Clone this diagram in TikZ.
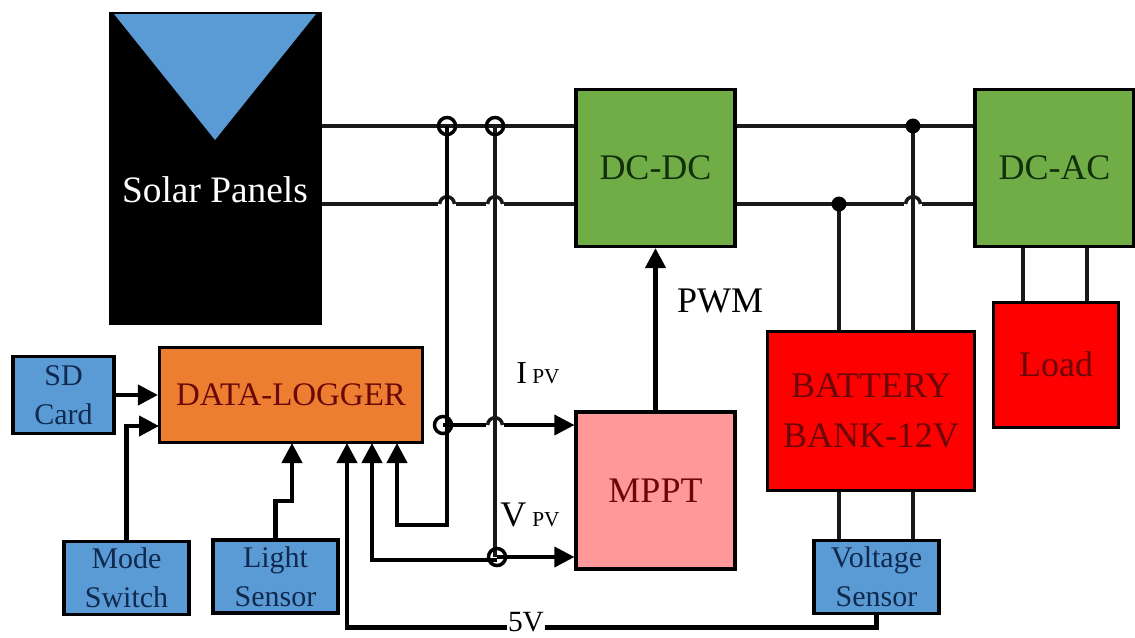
\documentclass[tikz,border=0pt]{standalone}
\usepackage{fontspec}
\setmainfont{Liberation Serif}
\usepackage{xcolor}
\usetikzlibrary{arrows.meta,calc}
\definecolor{panelblue}{HTML}{5B9BD5}
\definecolor{boxgreen}{HTML}{70AD47}
\definecolor{boxorange}{HTML}{ED7D31}
\definecolor{boxpink}{HTML}{FF9999}
\definecolor{boxred}{HTML}{FF0000}
\definecolor{inkblue}{HTML}{10294F}
\definecolor{inkgreen}{HTML}{12300C}
\definecolor{inkred}{HTML}{6A0808}
\tikzset{
  bigfont/.style={font=\fontsize{27}{37}\selectfont},
  smallfont/.style={font=\fontsize{22.5}{29}\selectfont},
  block/.style={draw=black,line width=2.6pt,align=center,inner sep=0pt,bigfont},
  greenbox/.style={block,fill=boxgreen,text=inkgreen,minimum width=119pt,minimum height=117.5pt},
  sensorbox/.style={block,fill=panelblue,text=inkblue,smallfont,minimum width=94pt,minimum height=55pt},
  wire/.style={line width=2.6pt,black!90},
  feed/.style={line width=3.2pt,black,-{Triangle[length=15pt,width=15pt]}},
  thinfeed/.style={line width=2.6pt,black,-{Triangle[length=15pt,width=15pt]}},
  opendot/.style={line width=2.6pt,black},
}
\begin{document}
\begin{tikzpicture}[x=0.75pt,y=-0.75pt]
\useasboundingbox (0,0) rectangle (1135,637);
% panel with its triangle
\node[fill=black,minimum width=160pt,minimum height=235pt,inner sep=0pt] (solar) at (215.5,168.5) {};
\fill[panelblue] (114,14) -- (316,14) -- (215,140) -- cycle;
\node[text=white,font=\fontsize{28}{32}\selectfont] (solartext) at (215,190) {Solar Panels};
% blocks
\node[greenbox] (dcdc) at (655.5,168) {DC-DC};
\node[greenbox] (dcac) at (1054.5,168) {DC-AC};
\node[block,fill=boxred,text=inkred,minimum width=93.5pt,minimum height=93.5pt] (load) at (1056,365) {\raisebox{2pt}{Load}};
\node[block,fill=boxred,text=inkred,minimum width=155pt,minimum height=119pt] (batt) at (871,411) {BATTERY\\BANK-12V};
\node[block,fill=boxpink,text=inkred,minimum width=119pt,minimum height=118pt] (mppt) at (655.5,490.5) {MPPT};
\node[block,fill=boxorange,text=inkred,font=\fontsize{24.7}{28}\selectfont,minimum width=197pt,minimum height=71pt] (logger) at (291,395) {DATA-LOGGER};
\node[sensorbox,minimum width=76pt,minimum height=57.5pt] (sd) at (63.5,395) {SD\\Card};
\node[sensorbox] (mode) at (126.5,578) {Mode\\Switch};
\node[sensorbox] (light) at (275.5,576.5) {Light\\Sensor};
\node[sensorbox] (volt) at (876.5,577) {Voltage\\Sensor};
% junctions and hops
\coordinate (topa) at (447,126);
\coordinate (topb) at (495,126);
\coordinate (topc) at (913,126);
\coordinate (bota) at (447,204);
\coordinate (botb) at (495,204);
\coordinate (botc) at (839,204);
\coordinate (botd) at (913,204);
\coordinate (ipj) at (443,425);
\coordinate (iphop) at (495,425);
\coordinate (vpj) at (497,557);
\coordinate (lgin) at (159,426);
\coordinate (lga) at (292,443);
\coordinate (lgb) at (347,443);
\coordinate (lgc) at (372,443);
\coordinate (lgd) at (397,443);
% power lines
\draw[wire] (solar.east |- topa) -- (dcdc.west |- topa);
\draw[wire] (solar.east |- bota) -- (dcdc.west |- bota);
\draw[wire] (dcdc.east |- topa) -- (dcac.west |- topa);
\draw[wire] (dcdc.east |- bota) -- (dcac.west |- bota);
\draw[thinfeed] (ipj) -- (mppt.west |- ipj);
\foreach \h in {bota,botb,botd,iphop}{
  \fill[white] ([shift={(-6.5pt,-1.8pt)}]\h) rectangle ([shift={(6.5pt,1.8pt)}]\h);
  \draw[wire] ([xshift=-5.5pt]\h) arc[start angle=180,end angle=0,radius=5.5pt];
}
% measuring lines
\draw[feed] (topa) -- (447,525) -| (lgd);
\draw[wire] (topb) -- (495,557);
\draw[thinfeed] (vpj) -- (mppt.west |- vpj);
\draw[feed] (vpj) ++(0,3) -| (lgc);
\draw[feed] (mppt.north) -- (dcdc.south);
% battery, load, sensor
\draw[wire] (botc) -- (botc |- batt.north);
\draw[wire] (topc) -- (topc |- batt.north);
\draw[wire] (botc |- batt.south) -- (botc |- volt.north);
\draw[wire] (topc |- batt.south) -- (topc |- volt.north);
\draw[wire] (dcac.south -| 1023,0) coordinate (la) -- (la |- load.north);
\draw[wire] (dcac.south -| 1087,0) coordinate (lb) -- (lb |- load.north);
% dots
\fill[black] (topc) circle(5.6pt);
\fill[black] (botc) circle(5.6pt);
\foreach \j in {topa,topb,ipj,vpj}{
  \draw[opendot] (\j) circle(6.4pt);
}
% logger inputs
\draw[feed] (sd.east) -- (logger.west);
\draw[feed] (mode.north) |- (lgin);
\draw[feed] (light.north) -- ++(0,-37) -| (lga);
\draw[feed] (volt.south) -- ++(0,12) -| (lgb);
\node[fill=white,inner sep=1pt,font=\fontsize{22}{24}\selectfont] (fivev) at (526,622) {5V};
% signal labels
\node[font=\fontsize{27}{30}\selectfont] (pwm) at (720,301) {PWM};
\node[font=\fontsize{24}{28}\selectfont] (ipv) at (538,373) {I\,{\fontsize{16}{18}\selectfont PV}};
\node[font=\fontsize{27}{30}\selectfont] (vpv) at (530,515) {V\,{\fontsize{16}{18}\selectfont PV}};
\end{tikzpicture}
\end{document}
